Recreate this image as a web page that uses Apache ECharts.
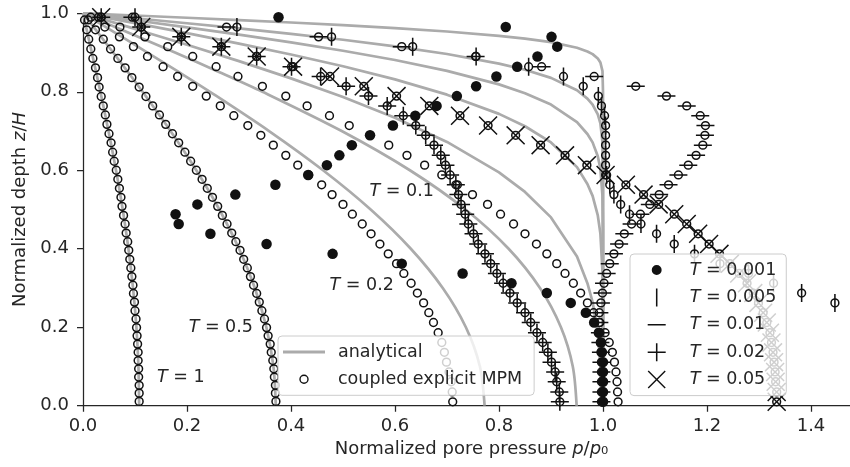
<!DOCTYPE html>
<html>
<head>
<meta charset="utf-8">
<script src="https://cdn.jsdelivr.net/npm/echarts@6/dist/echarts.min.js"></script>
<style>
  html, body { margin: 0; background: #fff; }
  #chart { width: 850px; height: 467px; }
</style>
</head>
<body>
<div id="chart"></div>
<script>
// tick labels
const xTicks = [0, 0.2, 0.4, 0.6, 0.8, 1.0, 1.2, 1.4];
const yTicks = [0, 0.2, 0.4, 0.6, 0.8, 1.0];

// analytical curves, small T (pressure list shared, depth per curve)
const erfP = [0, 0.1, 0.2, 0.3, 0.4, 0.5, 0.6, 0.7, 0.8, 0.85, 0.9, 0.95, 0.97, 0.98, 0.99, 0.995, 0.999, 1, 1];
const anaZ_0001 = [1, 0.9944, 0.9887, 0.9828, 0.9765, 0.9698, 0.9624, 0.9536, 0.9427, 0.9356, 0.9264, 0.9123, 0.9027, 0.896, 0.8848, 0.8745, 0.8528, 0.80, 0];
const anaZ_0005 = [1, 0.9874, 0.9747, 0.9615, 0.9476, 0.9326, 0.9158, 0.8963, 0.8718, 0.856, 0.8355, 0.804, 0.7825, 0.7674, 0.7424, 0.7193, 0.6709, 0.60, 0];
const anaZ_001 = [1, 0.9822, 0.9642, 0.9455, 0.9258, 0.9046, 0.881, 0.8534, 0.8188, 0.7964, 0.7674, 0.7228, 0.6924, 0.671, 0.6357, 0.603, 0.5346, 0.45, 0];
const anaZ_002 = [1, 0.9749, 0.9493, 0.9229, 0.8951, 0.8651, 0.8317, 0.7927, 0.7437, 0.7121, 0.671, 0.608, 0.565, 0.5347, 0.4848, 0.4386, 0.3419, 0.25, 0];
const anaP_005 = [0, 0.1, 0.2, 0.3, 0.4, 0.5, 0.6, 0.7, 0.8, 0.85, 0.9, 0.95, 0.97, 0.98, 0.99, 0.995, 0.9967];
const anaZ_005 = [1, 0.9602, 0.9199, 0.8781, 0.8342, 0.7867, 0.7339, 0.6722, 0.5947, 0.5448, 0.4799, 0.3802, 0.3122, 0.2643, 0.1855, 0.10, 0];

// analytical curves, larger T (depth list shared)
const anaZ = [1, 0.95, 0.9, 0.85, 0.8, 0.7, 0.6, 0.5, 0.4, 0.3, 0.2, 0.1, 0];
const anaP_01 = [0, 0.089, 0.1769, 0.2626, 0.3452, 0.4975, 0.6286, 0.7356, 0.8185, 0.8788, 0.9191, 0.9419, 0.9493];
const anaP_02 = [0, 0.0622, 0.1239, 0.1847, 0.2442, 0.3578, 0.4616, 0.5532, 0.6304, 0.6918, 0.7363, 0.7633, 0.7723];
const anaP_05 = [0, 0.0291, 0.058, 0.0866, 0.1146, 0.1683, 0.2179, 0.2622, 0.3, 0.3304, 0.3526, 0.3662, 0.3708];
const anaP_1 = [0, 0.0085, 0.0169, 0.0252, 0.0334, 0.049, 0.0635, 0.0764, 0.0874, 0.0962, 0.1027, 0.1066, 0.108];

// MPM point depths
const zA = [0.990, 0.965, 0.940, 0.915, 0.890, 0.864, 0.839, 0.814, 0.789, 0.764,
            0.739, 0.714, 0.689, 0.664, 0.638, 0.613, 0.588, 0.563, 0.538, 0.513,
            0.488, 0.463, 0.438, 0.412, 0.387, 0.362, 0.337, 0.312, 0.287, 0.262,
            0.237, 0.212, 0.186, 0.161, 0.136, 0.111, 0.086, 0.061, 0.035, 0.010];
const zB = [0.983, 0.958, 0.934, 0.909, 0.885, 0.861, 0.836, 0.812, 0.788, 0.764,
            0.741, 0.717, 0.693, 0.670, 0.646, 0.623, 0.600, 0.577, 0.554, 0.531,
            0.508, 0.485, 0.463, 0.440, 0.418, 0.396, 0.373, 0.351, 0.329, 0.307,
            0.286, 0.264, 0.242, 0.221, 0.199, 0.178, 0.157, 0.136, 0.115, 0.094,
            0.073, 0.052, 0.032, 0.011];

// MPM pressures
const mpm_0001 = [0.376, 0.813, 0.901, 0.912, 0.874, 0.835, 0.795, 0.756, 0.719, 0.680,
                  0.639, 0.596, 0.552, 0.517, 0.493, 0.469, 0.433, 0.370, 0.293, 0.220,
                  0.178, 0.184, 0.245, 0.353, 0.480, 0.613, 0.730, 0.824, 0.892, 0.938,
                  0.967, 0.983, 0.992, 0.996, 0.998, 1.0, 1.0, 1.0, 1.0, 1.0];
const mpm_0005 = [0.100, 0.296, 0.478, 0.634, 0.756, 0.857, 0.924, 0.962, 0.991, 0.997,
                  1.003, 1.005, 1.005, 1.005, 1.005, 1.005, 1.007, 1.013, 1.021, 1.034,
                  1.051, 1.073, 1.103, 1.137, 1.176, 1.225, 1.280, 1.328, 1.382, 1.446,
                  1.510, 1.580];
const mpm_001 = [0.095, 0.276, 0.453, 0.613, 0.755, 0.882, 0.983, 1.063, 1.122, 1.161,
                 1.187, 1.197, 1.196, 1.192, 1.179, 1.164, 1.145, 1.126, 1.108, 1.090,
                 1.072, 1.055, 1.041, 1.031, 1.021, 1.013, 1.007, 1.002, 0.999, 0.996,
                 0.993, 0.993, 0.994, 0.995, 0.996, 0.997, 0.997, 0.997, 0.997, 0.997];
const mpm_002 = [0.035, 0.112, 0.189, 0.266, 0.334, 0.401, 0.457, 0.506, 0.549, 0.585,
                 0.616, 0.640, 0.659, 0.675, 0.688, 0.697, 0.706, 0.717, 0.722, 0.727,
                 0.735, 0.741, 0.751, 0.760, 0.773, 0.784, 0.796, 0.808, 0.821, 0.835,
                 0.850, 0.861, 0.873, 0.884, 0.894, 0.901, 0.908, 0.911, 0.916, 0.917];
const mpm_005 = [0.035, 0.112, 0.189, 0.266, 0.334, 0.404, 0.475, 0.540, 0.603, 0.666,
                 0.725, 0.779, 0.832, 0.880, 0.927, 0.969, 1.005, 1.044, 1.078, 1.107,
                 1.137, 1.161, 1.183, 1.204, 1.224, 1.244, 1.262, 1.277, 1.289, 1.299,
                 1.308, 1.315, 1.321, 1.324, 1.327, 1.329, 1.331, 1.332, 1.334, 1.334];
const mpm_01 = [0.030, 0.071, 0.119, 0.163, 0.211, 0.256, 0.298, 0.345, 0.390, 0.431,
                0.474, 0.512, 0.552, 0.588, 0.623, 0.657, 0.690, 0.720, 0.749, 0.778,
                0.803, 0.828, 0.850, 0.872, 0.892, 0.911, 0.927, 0.943, 0.957, 0.970,
                0.982, 0.994, 1.004, 1.012, 1.018, 1.022, 1.025, 1.027, 1.028, 1.029];
const mpm_02 = [0.015, 0.042, 0.070, 0.097, 0.124, 0.154, 0.182, 0.211, 0.237, 0.264,
                0.290, 0.317, 0.342, 0.366, 0.390, 0.413, 0.434, 0.459, 0.479, 0.500,
                0.518, 0.537, 0.554, 0.571, 0.587, 0.603, 0.617, 0.631, 0.643, 0.655,
                0.665, 0.674, 0.683, 0.690, 0.695, 0.699, 0.704, 0.708, 0.710, 0.711];
const mpm_05 = [0.010, 0.024, 0.039, 0.053, 0.067, 0.081, 0.094, 0.108, 0.121, 0.134,
                0.147, 0.159, 0.172, 0.184, 0.196, 0.207, 0.218, 0.229, 0.239, 0.249,
                0.259, 0.268, 0.277, 0.286, 0.294, 0.302, 0.309, 0.316, 0.322, 0.328,
                0.334, 0.339, 0.344, 0.349, 0.353, 0.356, 0.360, 0.362, 0.365, 0.367,
                0.368, 0.370, 0.370, 0.371];
const mpm_1 = [0.003, 0.007, 0.011, 0.015, 0.019, 0.024, 0.028, 0.031, 0.035, 0.039,
               0.043, 0.046, 0.050, 0.054, 0.057, 0.060, 0.064, 0.067, 0.070, 0.073,
               0.075, 0.078, 0.081, 0.083, 0.086, 0.088, 0.090, 0.092, 0.094, 0.096,
               0.097, 0.099, 0.100, 0.102, 0.103, 0.104, 0.105, 0.106, 0.106, 0.107,
               0.107, 0.108, 0.108, 0.108];

// curve labels
const labelText = ['0.1', '0.2', '0.5', '1'];
const labelP = [0.613, 0.536, 0.265, 0.188];
const labelZ = [0.545, 0.306, 0.199, 0.071];

const FONT = 'DejaVu Sans';
const INK = '#262626';
const MARK = '#111111';
const GRAY = '#ababab';

// marker shapes, each in a square 20x20 box (corner specks keep the box square)
const SQ = 'M0,0h.01v.01h-.01Z M20,20h-.01v-.01h.01Z ';
const VBAR = 'path://' + SQ + 'M9.15,0H10.85V20H9.15Z';
const HBAR = 'path://' + SQ + 'M0,9.15H20V10.85H0Z';
const PLUS = 'path://' + SQ + 'M9.15,0H10.85V9.15H20V10.85H10.85V20H9.15V10.85H0V9.15H9.15Z';
const CROSS = 'path://M0,1.1L1.1,0L10,8.9L18.9,0L20,1.1L11.1,10L20,18.9L18.9,20L10,11.1L1.1,20L0,18.9L8.9,10Z';
const DOT = 'path://' + SQ + 'M4.5,10A5.5,5.5 0 1 1 15.5,10A5.5,5.5 0 1 1 4.5,10Z';
const LINEICON = 'path://M0,0h.01v.01h-.01Z M42,8h-.01v-.01h.01Z M0,2.6H42V5.4H0Z';

const pts = (p, z) => p.map((v, i) => [v, z[i]]);
const italic = { fontStyle: 'italic', fontFamily: FONT, fontSize: 17.5, color: INK };

const analytical = [
  pts(erfP, anaZ_0001), pts(erfP, anaZ_0005), pts(erfP, anaZ_001), pts(erfP, anaZ_002),
  pts(anaP_005, anaZ_005), pts(anaP_01, anaZ), pts(anaP_02, anaZ), pts(anaP_05, anaZ), pts(anaP_1, anaZ)
];

const series = [];
analytical.forEach((d, i) => {
  series.push({
    type: 'line', name: 'analytical', data: d, symbol: 'none', smooth: i >= 5 ? 0.3 : false,
    lineStyle: { color: GRAY, width: 2.7 }, itemStyle: { color: GRAY }, z: 1, silent: true
  });
});

[[mpm_0005, zA], [mpm_001, zA], [mpm_002, zA], [mpm_005, zA], [mpm_01, zA], [mpm_02, zA], [mpm_05, zB], [mpm_1, zB]]
  .forEach(([p, z]) => {
    series.push({
      type: 'scatter', name: 'coupled explicit MPM', data: pts(p, z), symbol: 'circle', symbolSize: 7.8,
      itemStyle: { color: 'rgba(0,0,0,0)', borderColor: MARK, borderWidth: 1.5, opacity: 1 }, z: 2, silent: true
    });
  });

const marks = [
  ['T = 0.001', mpm_0001, 'circle', 10.5],
  ['T = 0.005', mpm_0005, VBAR, 18],
  ['T = 0.01', mpm_001, HBAR, 18],
  ['T = 0.02', mpm_002, PLUS, 18],
  ['T = 0.05', mpm_005, CROSS, 19]
];
marks.forEach(([name, p, sym, size]) => {
  series.push({
    type: 'scatter', name: name, data: pts(p, zA), symbol: sym, symbolSize: size,
    itemStyle: { color: MARK, borderWidth: 0, opacity: 1 }, z: 3, silent: true
  });
});

series.push({
  type: 'scatter', data: labelP.map((p, i) => [p, labelZ[i], labelText[i]]),
  symbolSize: 1, itemStyle: { color: 'rgba(0,0,0,0)', opacity: 1 }, z: 4, silent: true,
  label: {
    show: true, position: 'inside', formatter: (d) => '{i|T} = ' + d.data[2], opacity: 1,
    fontFamily: FONT, fontSize: 17.5, color: INK, rich: { i: italic }
  }
});

const legendText = (spacer) => ({
  fontFamily: FONT, fontSize: 17.5, color: INK, lineHeight: 20,
  rich: { s: { width: spacer, fontSize: 17.5 }, i: italic }
});
const markIcons = [DOT, VBAR, HBAR, PLUS, CROSS];

const option = {
  animation: false,
  grid: { left: 83, right: 0, top: 13.3, bottom: 61.3, outerBoundsMode: 'none' },
  xAxis: {
    type: 'value', min: 0, max: 1.475, interval: 0.2,
    name: 'Normalized pore pressure {i|p}/{i|p}₀', nameLocation: 'middle', nameGap: 33,
    nameTextStyle: { fontFamily: FONT, fontSize: 18, color: INK, padding: [0, 0, 0, 10], rich: { i: Object.assign({}, italic, { fontSize: 18 }) } },
    axisLine: { lineStyle: { color: INK, width: 1.25 } },
    axisTick: { length: 6, lineStyle: { color: INK, width: 1.25 }, customValues: xTicks },
    axisLabel: { customValues: xTicks, formatter: (v) => v.toFixed(1), fontFamily: FONT, fontSize: 18, color: INK, margin: 12 },
    splitLine: { show: false }
  },
  yAxis: {
    type: 'value', min: 0, max: 1, interval: 0.2,
    name: 'Normalized depth {i|z}/{i|H}', nameLocation: 'middle', nameGap: 50,
    nameTextStyle: { fontFamily: FONT, fontSize: 18, color: INK, rich: { i: Object.assign({}, italic, { fontSize: 18 }) } },
    axisLine: { show: true, lineStyle: { color: INK, width: 1.25 } },
    axisTick: { show: true, length: 6, lineStyle: { color: INK, width: 1.25 }, customValues: yTicks },
    axisLabel: { customValues: yTicks, formatter: (v) => v.toFixed(1), fontFamily: FONT, fontSize: 18, color: INK, margin: 14 },
    splitLine: { show: false }
  },
  legend: [
    {
      orient: 'vertical', left: 278, top: 336, z: 10, selectedMode: false,
      itemWidth: 42, itemHeight: 8, itemGap: 7.3, padding: [6, 12, 6, 5],
      backgroundColor: 'rgba(255,255,255,0.8)', borderColor: '#cccccc', borderWidth: 1, borderRadius: 4,
      data: [
        { name: 'analytical', icon: LINEICON, itemStyle: { color: GRAY, borderWidth: 0 } },
        { name: 'coupled explicit MPM', icon: 'circle', itemStyle: { color: '#ffffff', borderColor: MARK, borderWidth: 1.4 } }
      ],
      formatter: (name) => '{s| }' + name,
      textStyle: legendText(8)
    },
    {
      orient: 'vertical', left: 630, top: 254, z: 10, selectedMode: false,
      itemWidth: 18, itemHeight: 18, itemGap: 7.4, padding: [6, 10, 6, 17.7],
      backgroundColor: 'rgba(255,255,255,0.8)', borderColor: '#cccccc', borderWidth: 1, borderRadius: 4,
      data: marks.map((m, i) => ({ name: m[0], icon: markIcons[i], itemStyle: { color: MARK, borderWidth: 0 } })),
      formatter: (name) => '{s| }{i|T} = ' + name.slice(4),
      textStyle: legendText(19)
    }
  ],
  series: series
};

const chart = echarts.init(document.getElementById('chart'), null, { renderer: 'canvas' });
chart.setOption(option);
</script>
</body>
</html>
